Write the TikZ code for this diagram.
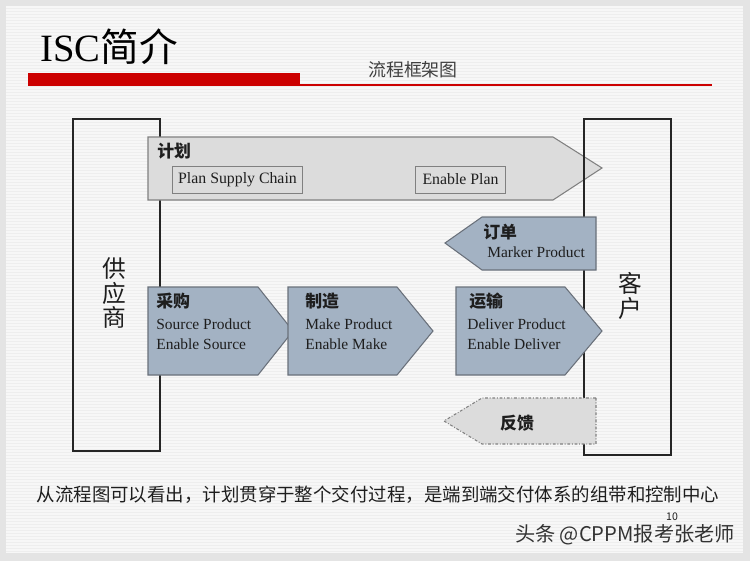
\documentclass[tikz,border=0pt]{standalone}
\usepackage{fontspec}
\setmainfont{Liberation Serif}
\newfontfamily\cjk{Noto Sans CJK SC}
\usepackage{tikz}
\usetikzlibrary{positioning}
\usepackage{xcolor}
\definecolor{slidered}{RGB}{204,0,0}
\definecolor{bluegrey}{RGB}{163,178,195}
\definecolor{lightgrey}{RGB}{220,220,220}
\definecolor{edgegrey}{RGB}{105,112,122}
\definecolor{framegrey}{RGB}{228,228,228}
\definecolor{stripe}{RGB}{238,238,238}
\definecolor{inktext}{RGB}{30,30,30}

\begin{document}
\begin{tikzpicture}[x=0.02cm,y=-0.02cm,
  flow/.style = {draw=edgegrey, fill=bluegrey, line width=0.6pt},
  planflow/.style = {draw=gray, fill=lightgrey, line width=0.6pt},
  backflow/.style = {draw=gray, fill=lightgrey, line width=0.6pt,
    dash pattern=on 1.6pt off 1pt on 0.5pt off 1pt},
  party/.style = {draw=black!85, line width=0.8pt},
  txt/.style = {inner sep=0pt, anchor=west, text=inktext,
    font=\fontsize{8.8}{10}\selectfont},
  head/.style = {inner sep=0pt, anchor=west, text=inktext,
    font=\cjk\bfseries\fontsize{9.6}{10}\selectfont},
  tag/.style = {draw=gray, fill=lightgrey, inner sep=0pt, text=inktext,
    minimum height=15.3pt, font=\fontsize{9}{10}\selectfont},
  partyname/.style = {inner sep=0pt, align=center, text=inktext,
    font=\cjk\fontsize{13.5}{14.2}\selectfont}
  ]
  \useasboundingbox (0,0) rectangle (750,561);
  % slide background
  \fill[framegrey] (0,0) rectangle (750,561);
  \fill[white!97!black] (6,6) rectangle (743,553);
  \foreach \y in {8,11,...,551}
    \draw[stripe, line width=0.4pt] (6,\y) -- (743,\y);

  % header
  \node[inner sep=0pt, anchor=west, font=\fontsize{22}{24}\selectfont] (title) at (40,47)
    {ISC{\cjk 简介}};
  \fill[slidered] (28,73) rectangle (300,86);
  \fill[slidered] (300,83.5) rectangle (712,85.5);
  \node[inner sep=0pt, font=\cjk\fontsize{10.2}{11}\selectfont, text=black!75] (subtitle) at (413,70) {流程框架图};

  % supplier
  \draw[party] (73,119) rectangle (160,451);
  \node[partyname] (supplier) at (114,293) {供\\应\\商};

  % plan
  \draw[planflow] (148,137) -- (553,137) -- (602,168) -- (553,200) -- (148,200) -- cycle;
  \node[head] (plan) at (157,151) {计划};
  \node[tag, minimum width=74.3pt] (supply) at (237.5,179.5) {Plan Supply Chain};
  \node[tag, minimum width=51.6pt] (enableplan) at (460.5,179.5) {Enable Plan};

  % customer
  \draw[party] (584,119) rectangle (671,455);
  \node[partyname] (customer) at (630,296) {客\\户};

  % order
  \draw[flow] (596,217) -- (482,217) -- (445,243) -- (482,270) -- (596,270) -- cycle;
  \node[head] (order) at (483,232) {订单};
  \node[txt] (marker) at (487,252) {Marker Product};

  % source, make, deliver
  \draw[flow] (148,287) -- (258,287) -- (293,331) -- (258,375) -- (148,375) -- cycle;
  \node[head] (source) at (156,301) {采购};
  \node[txt] (sourcep) at (156,324) {Source Product};
  \node[txt] (sourcee) at (156,344) {Enable Source};

  \draw[flow] (288,287) -- (397,287) -- (433,331) -- (397,375) -- (288,375) -- cycle;
  \node[head] (make) at (305,301) {制造};
  \node[txt] (makep) at (305,324) {Make Product};
  \node[txt] (makee) at (305,344) {Enable Make};

  \draw[flow] (456,287) -- (565,287) -- (602,331) -- (565,375) -- (456,375) -- cycle;
  \node[head] (deliver) at (469,301) {运输};
  \node[txt] (deliverp) at (467,324) {Deliver Product};
  \node[txt] (delivere) at (467,344) {Enable Deliver};

  % feedback
  \draw[backflow] (596,398) -- (482,398) -- (444,421) -- (482,444) -- (596,444) -- cycle;
  \node[head, anchor=center] (feedback) at (517,423) {反馈};

  % footer
  \node[inner sep=0pt, font=\cjk\fontsize{10.5}{12}\selectfont, text=inktext] (summary) at (378,495)
    {从流程图可以看出，计划贯穿于整个交付过程，是端到端交付体系的组带和控制中心};
  \node[inner sep=0pt, font=\cjk\fontsize{6}{7}\selectfont, text=inktext] (pageno) at (672,517) {10};
  \node[inner sep=0pt, font=\cjk\fontsize{11.5}{12}\selectfont, text=black!80] (mark) at (625,535)
    {头条 @CPPM报考张老师};
\end{tikzpicture}
\end{document}
